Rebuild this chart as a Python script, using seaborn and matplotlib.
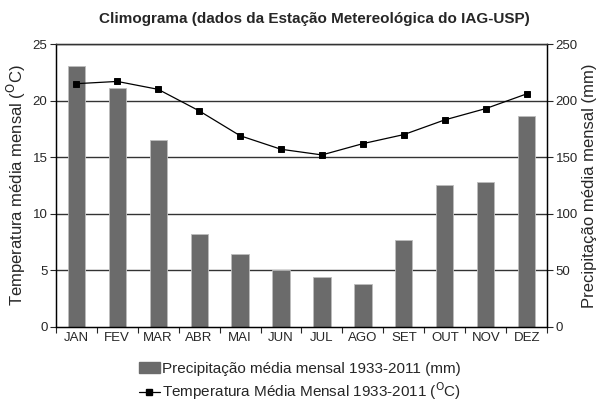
import numpy as np
import pandas as pd
import matplotlib
matplotlib.use("Agg")
import matplotlib.pyplot as plt
import seaborn as sns
from matplotlib.patches import Patch
from matplotlib.lines import Line2D

meses = ["JAN", "FEV", "MAR", "ABR", "MAI", "JUN", "JUL", "AGO", "SET", "OUT", "NOV", "DEZ"]
precipitacao = [231, 211, 165, 82, 64, 50, 44, 38, 77, 125, 128, 186]
temperatura = [21.5, 21.7, 21.0, 19.1, 16.9, 15.7, 15.2, 16.2, 17.0, 18.3, 19.3, 20.6]

df = pd.DataFrame({"mes": meses, "prec": precipitacao, "temp": temperatura})

sns.set_style("white")
plt.rcParams["font.family"] = ["Liberation Sans", "DejaVu Sans"]

fig = plt.figure(figsize=(6, 4.01), dpi=100)
ax_t = fig.add_axes([0.093, 0.185, 0.819, 0.705])
ax_p = ax_t.twinx()

# bars (precipitation) on the twin axis, line (temperature) on top
sns.barplot(data=df, x="mes", y="prec", order=meses, color="#6b6b6b", saturation=1,
            width=0.42, edgecolor="#bdbdbd", linewidth=0.6, ax=ax_p)
sns.pointplot(data=df, x="mes", y="temp", order=meses, color="black", markers="s",
              linestyles="-", markersize=5, linewidth=0.9, ax=ax_t)

ax_t.set_zorder(ax_p.get_zorder() + 1)
ax_t.patch.set_visible(False)

ax_t.set_ylim(0, 25)
ax_p.set_ylim(0, 250)
ax_t.set_xlim(-0.5, 11.5)
ax_t.set_yticks(np.arange(0, 26, 5))
ax_p.set_yticks(np.arange(0, 251, 50))
ax_p.grid(False)
ax_t.grid(False)
for v in range(50, 251, 50):
    ax_p.axhline(v, color="#333333", lw=1.0, zorder=0)

ax_t.set_xlabel("")
ax_p.set_xlabel("")
ax_t.set_ylabel("Temperatura média mensal ($^{\\rm O}$C)", fontsize=12, labelpad=3)
ax_p.set_ylabel("Precipitação média mensal (mm)", fontsize=12, labelpad=3)

ax_t.tick_params(axis="y", left=True, length=4, width=0.8, labelsize=9.5, pad=2)
ax_p.tick_params(axis="y", right=True, length=4, width=0.8, labelsize=9.5, pad=2)
ax_t.set_xticks(np.arange(-0.5, 12, 1), minor=True)
ax_t.tick_params(axis="x", which="major", length=0, labelsize=9.5, pad=4)
ax_t.tick_params(axis="x", which="minor", bottom=True, length=4, width=0.8)

for a in (ax_t, ax_p):
    for s in a.spines.values():
        s.set_color("black")
        s.set_linewidth(0.9)
ax_t.spines["top"].set_color("#333333")

ax_t.set_title("Climograma (dados da Estação Metereológica do IAG-USP)",
               fontsize=11, fontweight="bold", pad=15, x=0.527)

handles = [Patch(facecolor="#6b6b6b", edgecolor="#6b6b6b"),
           Line2D([], [], color="black", marker="s", markersize=5, lw=0.9)]
labels = ["Precipitação média mensal 1933-2011 (mm)",
          "Temperatura Média Mensal 1933-2011 ($^{\\rm O}$C)"]
fig.legend(handles, labels, loc="upper center", bbox_to_anchor=(0.5, 0.097),
           frameon=False, fontsize=11, handlelength=1.4, handletextpad=0.15,
           labelspacing=0.3, borderaxespad=0, borderpad=0)

fig.savefig("out.png", dpi=100)
